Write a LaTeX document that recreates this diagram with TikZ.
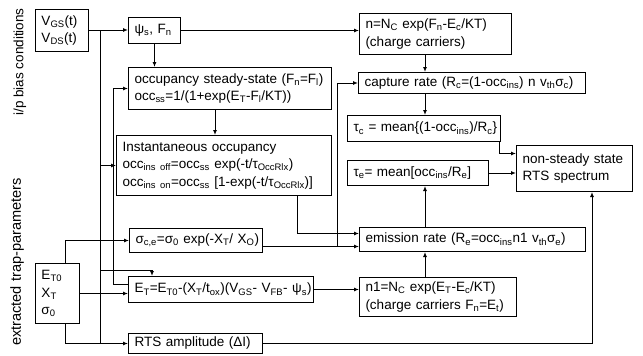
\documentclass[tikz,border=0pt]{standalone}
\usepackage{fontspec}
\setmainfont{Liberation Sans}
\usetikzlibrary{arrows.meta}
\newcommand{\ix}[1]{\textsubscript{#1}}
\begin{document}
\begin{tikzpicture}[x=1pt,y=-1pt,
  every path/.style={line width=1pt},
  arr/.style={-{Latex[length=5pt,width=4pt]}},
  box/.style={draw, line width=1pt, inner xsep=6pt, inner ysep=1pt,
    anchor=north west, align=left,
    font=\fontsize{13.5}{17.5}\selectfont},
  side/.style={rotate=90, font=\fontsize{13.5}{16}\selectfont}]
\useasboundingbox[fill=white] (0,0) rectangle (643,356);

% side captions
\node[side] (lblbias) at (20,62) {i/p bias conditions};
\node[side, font=\fontsize{14.6}{16}\selectfont] (lbltrap) at (17,262) {extracted trap-parameters};

% boxes
\node[box, minimum width=53, minimum height=42, text width=41] (vb) at (35,9)
  {\mbox{V\ix{GS}(t)}\\\mbox{V\ix{DS}(t)}};
\node[box, minimum width=52, minimum height=26, text width=40] (psi) at (128,17)
  {\mbox{ψ\ix{s}, F\ix{n}}};
\node[box, minimum width=152, minimum height=41, text width=140] (nbox) at (359,13)
  {\mbox{n=N\ix{C} exp(F\ix{n}-E\ix{c}/KT)}\\\mbox{(charge carriers)}};
\node[box, minimum width=203, minimum height=42, text width=191] (occ) at (128,67)
  {\mbox{occupancy steady-state (F\ix{n}=F\ix{l})}\\\mbox{occ\ix{ss}=1/(1+exp(E\ix{T}-F\ix{l}/KT))}};
\node[box, minimum width=227, minimum height=21, text width=215] (cap) at (358,72)
  {\mbox{capture rate (R\ix{c}=(1-occ\ix{ins}) n v\ix{th}σ\ix{c})}};
\node[box, minimum width=153, minimum height=26, text width=141] (tauc) at (347,115)
  {\mbox{τ\ix{c} = mean\{(1-occ\ix{ins})/R\ix{c}\}}};
\node[box, minimum width=141, minimum height=25, text width=129] (taue) at (347,160)
  {\mbox{τ\ix{e}= mean[occ\ix{ins}/R\ix{e}]}};
\node[box, minimum width=116, minimum height=46, text width=104] (nss) at (516,145)
  {\mbox{non-steady state}\\\mbox{RTS spectrum}};
\node[box, minimum width=215, minimum height=60, text width=203] (inst) at (116,135)
  {\mbox{Instantaneous occupancy}\\
   \mbox{occ\ix{ins off}=occ\ix{ss} exp(-t/τ\ix{OccRlx})}\\
   \mbox{occ\ix{ins on}=occ\ix{ss} [1-exp(-t/τ\ix{OccRlx})]}};
\node[box, minimum width=133, minimum height=24, text width=121] (sig) at (129,228)
  {\mbox{σ\ix{c,e}=σ\ix{0} exp(-X\ix{T}/ X\ix{O})}};
\node[box, minimum width=226, minimum height=24, text width=214] (emi) at (359,227)
  {\mbox{emission rate (R\ix{e}=occ\ix{ins}n1 v\ix{th}σ\ix{e})}};
\node[box, minimum width=185, minimum height=26, text width=173] (et) at (128,276)
  {\mbox{E\ix{T}=E\ix{T0}-(X\ix{T}/t\ix{ox})(V\ix{GS}- V\ix{FB}- ψ\ix{s})}};
\node[box, minimum width=157, minimum height=39, text width=145] (n1) at (359,277)
  {\mbox{n1=N\ix{C} exp(E\ix{T}-E\ix{c}/KT)}\\\mbox{(charge carriers F\ix{n}=E\ix{t})}};
\node[box, minimum width=44, minimum height=60, text width=32] (trap) at (35,263)
  {\mbox{E\ix{T0}}\\\mbox{X\ix{T}}\\\mbox{σ\ix{0}}};
\node[box, minimum width=134, minimum height=20, text width=122] (rts) at (128,333)
  {\mbox{RTS amplitude (ΔI)}};

% routing guides
\coordinate (j1) at (100,30);
\coordinate (j1b) at (100,270);
\coordinate (etin) at (152,270);
\coordinate (j1c) at (100,343);
\coordinate (xc) at (425,0);
\coordinate (xd) at (499,0);
\coordinate (xr) at (592,0);
\coordinate (j2) at (337,246);
\coordinate (xe) at (297,0);
\coordinate (xo) at (215,0);

% bias inputs
\draw[arr] (vb.east |- j1) -- (psi.west |- j1);
\draw[arr] (j1) |- (inst.west);
\draw[arr] (j1) -- (j1b) -- (etin) -- (etin |- et.north);
\draw (j1b) -- (j1c);
\draw[arr] (psi.east) -- (psi.east -| nbox.west);
\draw[arr] (psi.south) -- (psi.south |- occ.north);
\draw[arr] (xo |- occ.south) -- (xo |- inst.north);

% trap level fed back to the steady-state occupancy
\draw[arr] ([yshift=5pt]et.west) -- ++(-15,0) |- (occ.west);

% trap parameters
\draw[arr] ([xshift=8pt]trap.north) |- (sig.west);
\draw[arr] (trap.east) -- (trap.east -| et.west);
\draw[arr] ([xshift=8pt]trap.south) |- (rts.west);

% cross sections to capture and emission
\draw[arr] ([yshift=-6pt]sig.east) -- ([yshift=-6pt]sig.east -| emi.west);
\draw[arr] (j2) |- (cap.west);
\draw[arr] (xe |- inst.south) |- ([yshift=6pt]emi.west);

% right-hand chain
\draw[arr] (xc |- nbox.south) -- (xc |- cap.north);
\draw[arr] (xc |- cap.south) -- (xc |- tauc.north);
\draw[arr] (xd |- tauc.south) |- ([yshift=15pt]nss.west);
\draw[arr] (taue.east) -- (taue.east -| nss.west);
\draw[arr] (xc |- emi.north) -- (xc |- taue.south);
\draw[arr] (xc |- n1.north) -- (xc |- emi.south);
\draw[arr] (et.east) -- (et.east -| n1.west);
\draw[arr] (rts.east) -| (xr |- nss.south);
\end{tikzpicture}
\end{document}
